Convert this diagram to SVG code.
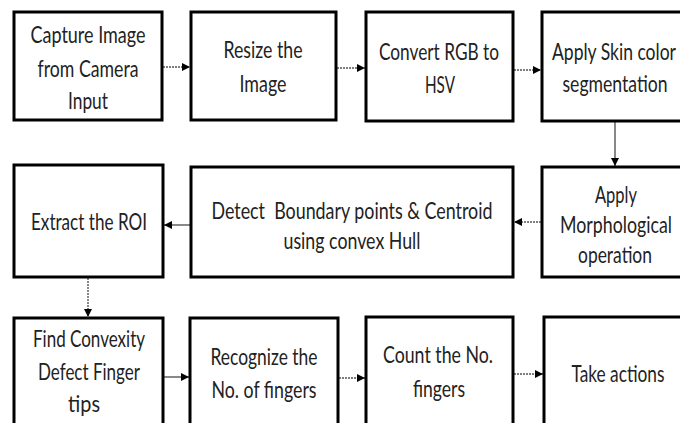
<svg xmlns="http://www.w3.org/2000/svg" width="680" height="423" viewBox="0 0 680 423">
<defs>
<style>
.box{fill:#fff;stroke:#000;stroke-width:3}
.t{font-family:Lato,"Open Sans",sans-serif;font-size:17.5px;fill:#222;text-anchor:middle}
.c{fill:none;stroke:#555;stroke-width:1.4}
.d{stroke-dasharray:2 1}
</style>
<marker id="ah" viewBox="0 0 10 10" refX="10" refY="5" markerWidth="8" markerHeight="8" markerUnits="userSpaceOnUse" orient="auto">
<path d="M0,0 L10,5 L0,10 z" fill="#000"/>
</marker>
</defs>
<rect x="0" y="0" width="680" height="423" fill="#fff"/>
<g id="connectors">
<line class="c d" x1="163" y1="67" x2="190" y2="67" marker-end="url(#ah)"/>
<line class="c d" x1="337" y1="68" x2="365" y2="68" marker-end="url(#ah)"/>
<line class="c d" x1="514" y1="70" x2="541" y2="70" marker-end="url(#ah)"/>
<line class="c" x1="615" y1="122" x2="615" y2="166" marker-end="url(#ah)"/>
<line class="c d" x1="541" y1="222" x2="514" y2="222" marker-end="url(#ah)"/>
<line class="c" x1="190" y1="225" x2="164" y2="225" marker-end="url(#ah)"/>
<line class="c d" x1="88" y1="278" x2="88" y2="317" marker-end="url(#ah)"/>
<line class="c" x1="164" y1="377" x2="189" y2="377" marker-end="url(#ah)"/>
<line class="c d" x1="339" y1="378" x2="365" y2="378" marker-end="url(#ah)"/>
<line class="c d" x1="514" y1="374" x2="543" y2="374" marker-end="url(#ah)"/>
</g>
<g id="n1">
<rect class="box" x="14" y="12" width="148" height="108"/>
<g transform="scale(1,1.3)">
<text class="t" x="88" y="33.08" textLength="115" lengthAdjust="spacingAndGlyphs">Capture Image</text>
<text class="t" x="88" y="59.23" textLength="101" lengthAdjust="spacingAndGlyphs">from Camera</text>
<text class="t" x="88" y="83.85" textLength="40" lengthAdjust="spacingAndGlyphs">Input</text>
</g>
</g>
<g id="n2">
<rect class="box" x="191" y="12" width="145" height="108"/>
<g transform="scale(1,1.3)">
<text class="t" x="263" y="44.62" textLength="79" lengthAdjust="spacingAndGlyphs">Resize the</text>
<text class="t" x="263" y="70.77" textLength="47" lengthAdjust="spacingAndGlyphs">Image</text>
</g>
</g>
<g id="n3">
<rect class="box" x="366" y="12" width="147" height="109"/>
<g transform="scale(1,1.3)">
<text class="t" x="439" y="46.15" textLength="120" lengthAdjust="spacingAndGlyphs">Convert RGB to</text>
<text class="t" x="440" y="71.54" textLength="30" lengthAdjust="spacingAndGlyphs">HSV</text>
</g>
</g>
<g id="n4">
<rect class="box" x="542" y="12" width="148" height="109"/>
<g transform="scale(1,1.3)">
<text class="t" x="614" y="46.15" textLength="124" lengthAdjust="spacingAndGlyphs">Apply Skin color</text>
<text class="t" x="615" y="70.77" textLength="105" lengthAdjust="spacingAndGlyphs">segmentation</text>
</g>
</g>
<g id="n5">
<rect class="box" x="14" y="165" width="149" height="112"/>
<g transform="scale(1,1.3)">
<text class="t" x="89" y="176.92" textLength="116" lengthAdjust="spacingAndGlyphs">Extract the ROI</text>
</g>
</g>
<g id="n6">
<rect class="box" x="191" y="167" width="322" height="110"/>
<g transform="scale(1,1.3)">
<text class="t" x="352" y="168.46" textLength="281" lengthAdjust="spacingAndGlyphs" xml:space="preserve">Detect  Boundary points &amp; Centroid</text>
<text class="t" x="352" y="191.54" textLength="137" lengthAdjust="spacingAndGlyphs">using convex Hull</text>
</g>
</g>
<g id="n7">
<rect class="box" x="542" y="167" width="148" height="110"/>
<g transform="scale(1,1.3)">
<text class="t" x="616" y="156.15" textLength="42" lengthAdjust="spacingAndGlyphs">Apply</text>
<text class="t" x="616" y="179.23" textLength="112" lengthAdjust="spacingAndGlyphs">Morphological</text>
<text class="t" x="615" y="202.31" textLength="74" lengthAdjust="spacingAndGlyphs">operation</text>
</g>
</g>
<g id="n8">
<rect class="box" x="14" y="318" width="149" height="122"/>
<g transform="scale(1,1.3)">
<text class="t" x="89" y="266.92" textLength="112" lengthAdjust="spacingAndGlyphs">Find Convexity</text>
<text class="t" x="89" y="292.31" textLength="102" lengthAdjust="spacingAndGlyphs">Defect Finger</text>
<text class="t" x="84" y="316.92" textLength="32" lengthAdjust="spacingAndGlyphs">tips</text>
</g>
</g>
<g id="n9">
<rect class="box" x="190" y="318" width="148" height="122"/>
<g transform="scale(1,1.3)">
<text class="t" x="264" y="280.77" textLength="107" lengthAdjust="spacingAndGlyphs">Recognize the</text>
<text class="t" x="264" y="306.15" textLength="105" lengthAdjust="spacingAndGlyphs">No. of fingers</text>
</g>
</g>
<g id="n10">
<rect class="box" x="366" y="317" width="147" height="123"/>
<g transform="scale(1,1.3)">
<text class="t" x="438" y="279.23" textLength="110" lengthAdjust="spacingAndGlyphs">Count the No.</text>
<text class="t" x="439" y="305.38" textLength="52" lengthAdjust="spacingAndGlyphs">fingers</text>
</g>
</g>
<g id="n11">
<rect class="box" x="544" y="317" width="148" height="123"/>
<g transform="scale(1,1.3)">
<text class="t" x="618" y="293.85" textLength="93" lengthAdjust="spacingAndGlyphs">Take actions</text>
</g>
</g>
</svg>
